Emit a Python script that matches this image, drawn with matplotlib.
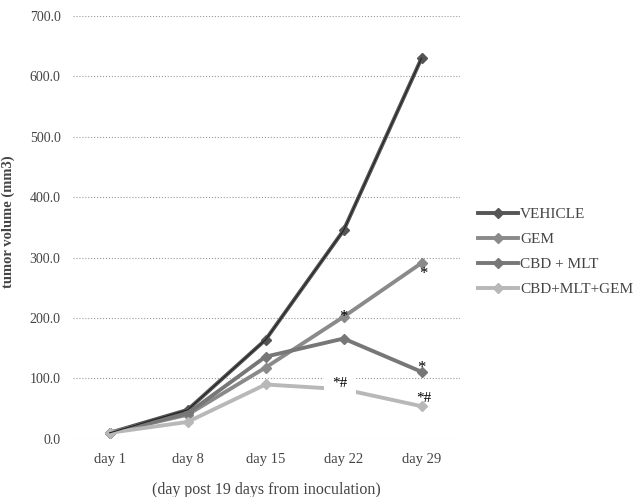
import numpy as np
import matplotlib.pyplot as plt

days = ['day 1', 'day 8', 'day 15', 'day 22', 'day 29']
vehicle = [10, 48, 164, 345, 630]
gem = [10, 40, 118, 202, 291]
cbd_mlt = [10, 42, 136, 166, 111]
cbd_mlt_gem = [10, 28, 90, 82, 54]

names = ['VEHICLE', 'GEM', 'CBD + MLT', 'CBD+MLT+GEM']
colors = ['#555555', '#8a8a8a', '#777777', '#b8b8b8']

plt.rcParams['font.family'] = ['Liberation Serif', 'DejaVu Serif']

fig = plt.figure(figsize=(6.35, 4.97), dpi=100)
ax = fig.add_axes([0.115, 0.117, 0.609, 0.851])
x = np.arange(len(days))

for ys, lab, c in zip([vehicle, gem, cbd_mlt, cbd_mlt_gem], names, colors):
	ax.plot(x, ys, '-', color=c, lw=2.8, marker='D', ms=5.5,
		mfc=c, mec=c, label=lab, zorder=3)
# dark core line for the vehicle group
ax.plot(x, vehicle, '-', color='#222222', lw=0.8, zorder=4)

# significance marks
ax.text(3, gem[3], '*', fontsize=12, ha='center', va='center', zorder=5)
ax.text(4.02, gem[4] - 18, '*', fontsize=12, ha='center', va='center', zorder=5)
ax.text(4.0, cbd_mlt[4] + 6, '*', fontsize=12, ha='center', va='center', zorder=5)
ax.text(2.95, cbd_mlt_gem[3] + 10, '*#', fontsize=11, ha='center', va='center', zorder=5,
	bbox=dict(facecolor='white', edgecolor='none', pad=6))
ax.text(4.03, cbd_mlt_gem[4] + 12, '*#', fontsize=11, ha='center', va='center', zorder=5)

ax.set_xlim(-0.47, 4.49)
ax.set_ylim(0, 700)
ax.set_yticks(np.arange(0, 701, 100))
ax.set_yticklabels(['%.1f' % v for v in np.arange(0, 701, 100)], fontsize=10, color='#444444')
ax.set_xticks(x)
ax.set_xticklabels(days, fontsize=10.5, color='#444444')
ax.tick_params(axis='y', length=0, pad=9)
ax.tick_params(axis='x', length=0, pad=10)
ax.grid(axis='y', linestyle=':', color='#999999', lw=0.8)
ax.set_axisbelow(True)
for s in ax.spines.values():
	s.set_visible(False)

ax.set_ylabel('tumor volume (mm3)', fontsize=10.5, fontweight='bold', color='#444444')
ax.yaxis.set_label_coords(-0.15, 0.513)
ax.set_xlabel('(day post 19 days from inoculation)', fontsize=11.5, color='#444444', labelpad=12)

ax.legend(loc='center left', bbox_to_anchor=(1.047, 0.442), frameon=False, fontsize=11,
	handlelength=2.6, handletextpad=0.15, labelspacing=0.75, borderpad=0, borderaxespad=0,
	labelcolor='#444444')

fig.savefig('out.png', dpi=100)
